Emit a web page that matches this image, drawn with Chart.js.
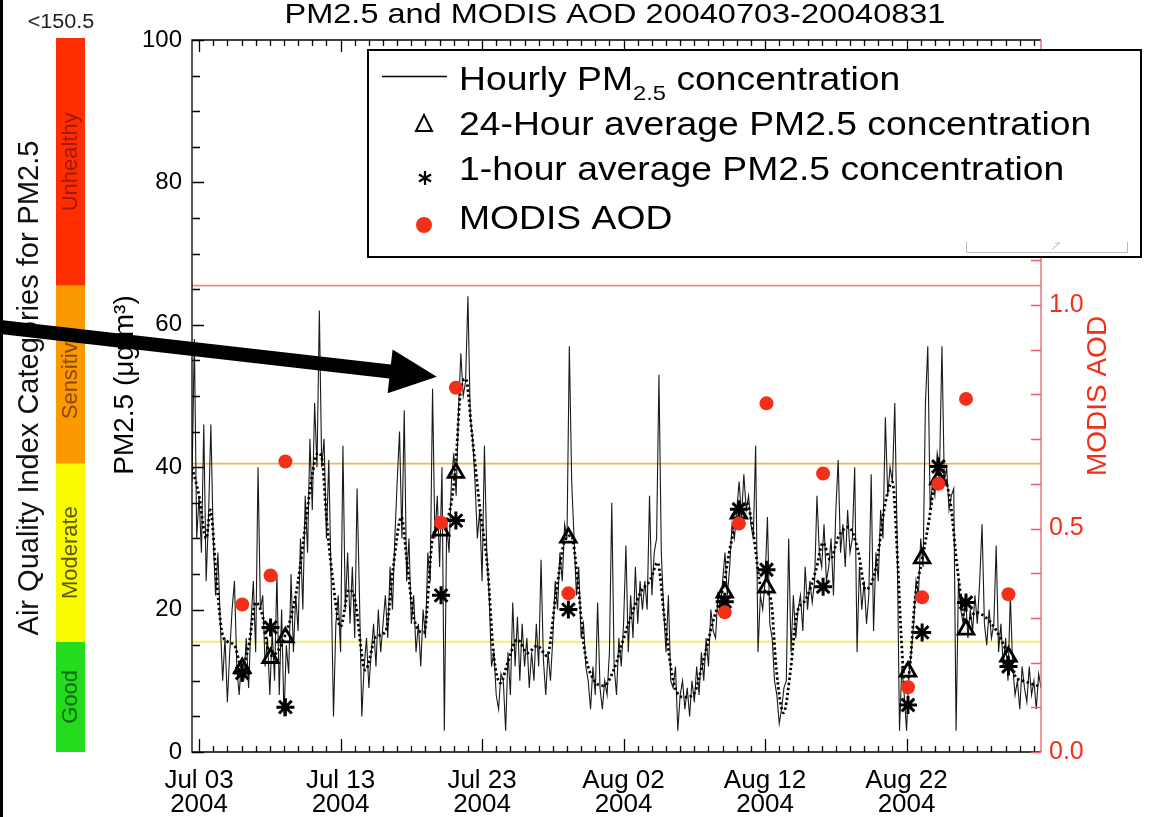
<!DOCTYPE html>
<html>
<head>
<meta charset="utf-8">
<title>PM2.5 and MODIS AOD</title>
<script src="https://cdn.jsdelivr.net/npm/chart.js@4.4.1/dist/chart.umd.min.js"></script>
<style>
  html, body { margin: 0; padding: 0; background: #fff; }
  #wrap { position: relative; width: 1149px; height: 817px; }
</style>
</head>
<body>
<div id="wrap"><canvas id="pmChart" width="1149" height="817"></canvas></div>
<script>
const FONT = '"Liberation Sans", Arial, Helvetica, sans-serif';
Chart.defaults.font.family = FONT;

// ---- data (x values are days after Jul 03 2004 00:00) ----
const chartTitle = 'PM2.5 and MODIS AOD 20040703-20040831';
const dateTickDays = [0, 10, 20, 30, 40, 50];
const dateTickLabels = [['Jul 03', '2004'], ['Jul 13', '2004'], ['Jul 23', '2004'],
                        ['Aug 02', '2004'], ['Aug 12', '2004'], ['Aug 22', '2004']];
const pmTickValues = [0, 20, 40, 60, 80, 100];
const aodTickValues = [0, 0.5, 1.0];
const aqiBreaks = [0, 15.5, 40.5, 65.5, 100];
const aqiNames = ['Good', 'Moderate', 'Sensitive', 'Unhealthy'];

// hourly PM2.5, read every 4 hours starting Jul 02 12:00
const hourlyStart = -0.5;
const hourlyStepHours = 4;
const hourlyPM = [
  38, 58, 30, 36, 28, 46,   24, 33, 46, 30, 22, 28,   18, 10, 16, 7, 14, 20,
  24, 12, 8, 13, 10, 16,    9, 18, 24, 14, 40, 20,    22, 12, 16, 8, 17, 10,
  25, 8, 20, 5, 15, 11,     25, 14, 22, 17, 30, 20,   36, 28, 44, 34, 49, 40,
  62, 40, 44, 30, 41, 24,   5, 18, 22, 14, 43, 20,    28, 18, 26, 16, 37, 22,
  5, 12, 16, 9, 14, 18,     12, 20, 14, 18, 22, 16,   26, 20, 30, 38, 45, 30,
  48, 24, 30, 18, 22, 14,   18, 12, 20, 16, 28, 24,   51, 30, 36, 26, 40, 3,
  32, 28, 38, 42, 36, 48,   56, 50, 52, 64, 47, 44,   38, 30, 34, 24, 43, 28,
  22, 12, 14, 8, 6, 11,     10, 3, 14, 8, 21, 12,     19, 10, 18, 12, 16, 9,
  14, 10, 18, 12, 27, 13,   8, 14, 10, 16, 24, 20,    28, 24, 32, 30, 57, 38,
  30, 22, 26, 16, 18, 12,   10, 6, 12, 8, 21, 9,      6, 10, 8, 14, 35, 12,
  8, 16, 12, 18, 29, 14,    22, 16, 26, 18, 24, 20,   24, 20, 36, 22, 28, 30,
  53, 28, 20, 14, 22, 10,   9, 12, 3, 8, 10, 6,       9, 5, 10, 7, 12, 8,
  14, 10, 16, 12, 20, 17,   16, 22, 20, 24, 28, 22,   26, 32, 30, 34, 38, 33,
  39, 34, 36, 32, 30, 43,   14, 22, 20, 24, 33, 18,   16, 10, 8, 4, 6, 9,
  10, 30, 14, 22, 16, 20,   22, 17, 26, 20, 24, 21,   24, 36, 28, 26, 32, 24,
  26, 30, 22, 34, 41, 28,   32, 26, 34, 28, 30, 40,   14, 26, 20, 24, 18, 22,
  39, 17, 28, 24, 34, 30,   47, 36, 40, 38, 49, 30,   3, 12, 8, 3, 11, 14,
  18, 24, 22, 30, 26, 49,   57, 34, 38, 36, 42, 40,   57, 38, 40, 34, 36, 37,
  3, 24, 20, 18, 22, 16,    20, 17, 22, 18, 24, 32,   18, 15, 20, 16, 18, 29,
  14, 18, 12, 16, 10, 22,   12, 8, 10, 6, 12, 9,      7, 12, 8, 10, 6, 11,
  9
];

// running 24-hour mean (dotted curve)
const avgDays = [
  -0.5, 0, 0.5, 0.8, 1.2, 1.6, 2.0, 2.5, 3.0, 3.5,
  4.0, 4.5, 5.0, 5.5, 6.0, 6.5, 7.0, 7.5, 8.0, 8.4,
  8.7, 9.0, 9.4, 10.0, 10.6, 11.0, 11.75, 12.5, 13.2, 13.7,
  14.3, 14.7, 15.2, 15.9, 16.5, 17.1, 17.6, 18.1, 18.5, 18.85,
  19.3, 19.8, 20.4, 20.8, 21.3, 21.8, 22.5, 23.2, 23.9, 24.6,
  25.2, 25.8, 26.3, 26.8, 27.2, 27.9, 28.6, 29.3, 30.2, 31.2,
  31.9, 32.4, 32.9, 33.5, 34.2, 34.9, 35.6, 36.3, 37.0, 37.6,
  38.1, 38.7, 39.2, 39.7, 40.4, 40.8, 41.3, 41.8, 42.2, 42.9,
  43.6, 44.1, 44.6, 45.2, 45.9, 46.6, 47.1, 47.8, 48.5, 49.0,
  49.4, 49.6, 49.9, 50.2, 50.6, 51.1, 51.6, 52.0, 52.5, 53.1,
  53.6, 54.2, 54.9, 55.6, 56.3, 57.0, 57.7, 58.4, 59.1, 59.5
];
const avgPM = [
  40, 36, 30, 34, 25, 17, 15.5, 15, 12, 14.8,
  21, 19, 13.5, 14, 16, 19, 24, 31.7, 39, 42,
  41, 33, 25, 17.6, 22.8, 21.5, 11.5, 16.2, 17, 25.6,
  33, 26.6, 18.6, 16.8, 30, 32, 33, 39.5, 51, 52.4,
  44.4, 35, 25.6, 14, 9.7, 12.5, 15.8, 13.9, 14.9, 13.5,
  21.8, 29.4, 30.4, 23.2, 14.9, 10.1, 9.3, 11.5, 17.2, 22.4,
  24.2, 26.6, 18.6, 10.1, 7.7, 8, 12.5, 18.2, 22.8, 29.4,
  33.1, 35, 30.3, 23.2, 21.5, 11.5, 5.5, 11.5, 19, 21.5,
  25.6, 29.4, 27, 30.3, 31.6, 28, 22.8, 25.6, 35, 37.9,
  25.6, 17, 9.2, 11.3, 21.5, 27, 32.7, 37.9, 38.9, 35,
  25.6, 18.2, 19.6, 18.9, 17.2, 14.4, 10.6, 9.9, 9.4, 9.2
];

// satellite overpass times and the values at them
const overpassDays = [3.05, 5.05, 6.1, 17.1, 18.15, 26.1, 37.15, 38.15, 40.1, 44.1, 50.1, 51.1, 52.25, 54.2, 57.2];
const avg24PM = [11.8, 13.2, 16.1, 31.1, 39.2, 30.1, 22.4, 33.5, 23.1, null, 11.3, 27.2, 38.3, 17.2, 13.4];
const hour1PM = [11.1, 17.5, 6.3, 22.0, 32.5, 20.0, 21.1, 34.1, 25.6, 23.2, 6.6, 16.8, 40.1, 21.0, 12.0];
const modisAOD = [0.33, 0.395, 0.65, 0.513, 0.815, 0.355, 0.3125, 0.511, 0.78, 0.623, 0.145, 0.346, 0.60, 0.79, 0.353];

const xMin = -0.5, xMax = 59.5;
const aodMax = 1.593;

const hourlyPoints = hourlyPM.map((v, i) => ({ x: hourlyStart + i * hourlyStepHours / 24, y: v }));
const avgPoints = avgDays.map((d, i) => ({ x: d, y: avgPM[i] }));
const pairUp = (vals) => overpassDays.map((d, i) => ({ x: d, y: vals[i] })).filter(p => p.y !== null);
const flatLine = (v) => [{ x: xMin, y: v }, { x: xMax, y: v }];

const RED = '#f2301a';

function stretchedText(ctx, text, x, y, sx, align) {
  ctx.save();
  ctx.translate(x, y);
  ctx.scale(sx, 1);
  ctx.textAlign = align || 'left';
  ctx.fillText(text, 0, 0);
  const w = ctx.measureText(text).width * sx;
  ctx.restore();
  return w;
}

function rotatedText(ctx, text, x, y, font, color) {
  ctx.save();
  ctx.translate(x, y);
  ctx.rotate(-Math.PI / 2);
  ctx.font = font;
  ctx.fillStyle = color;
  ctx.textAlign = 'center';
  ctx.textBaseline = 'middle';
  ctx.fillText(text, 0, 0);
  ctx.restore();
}

function drawFrame(chart) {
  const ctx = chart.ctx;
  const { left, right, top, bottom } = chart.chartArea;
  const xs = chart.scales.x, ys = chart.scales.y, y2 = chart.scales.y2;
  ctx.save();
  ctx.lineWidth = 1.3;
  ctx.strokeStyle = '#000';
  ctx.beginPath();
  ctx.moveTo(right, top); ctx.lineTo(left, top); ctx.lineTo(left, bottom); ctx.lineTo(right, bottom);
  for (let d = 0; d <= 59; d++) {
    const x = Math.round(xs.getPixelForValue(d)) + 0.5;
    const major = dateTickDays.includes(d);
    ctx.moveTo(x, bottom); ctx.lineTo(x, bottom - (major ? 13 : 6));
    ctx.moveTo(x, top); ctx.lineTo(x, top + (major ? 12 : 6));
  }
  for (let v = 0; v <= 100; v += 5) {
    const y = Math.round(ys.getPixelForValue(v)) + 0.5;
    ctx.moveTo(left, y); ctx.lineTo(left + (v % 20 === 0 ? 12 : 8), y);
  }
  ctx.stroke();
  ctx.strokeStyle = '#e8606a';
  ctx.beginPath();
  ctx.moveTo(right, top); ctx.lineTo(right, bottom);
  for (let k = 0; k <= 15; k++) {
    const y = Math.round(y2.getPixelForValue(k / 10)) + 0.5;
    ctx.moveTo(right, y); ctx.lineTo(right - 10, y);
  }
  ctx.stroke();
  ctx.restore();
}

function drawAqiBar(chart) {
  const ctx = chart.ctx;
  const ys = chart.scales.y;
  const colors = ['#25dc1c', '#fbfb00', '#fb9a00', '#ff2e00'];
  const textColors = ['#0d6a12', '#5a5800', '#8c4600', '#a2180a'];
  ctx.save();
  for (let i = 0; i < aqiNames.length; i++) {
    const yTop = ys.getPixelForValue(aqiBreaks[i + 1]) - (i === 3 ? 2 : 0);
    const yBot = ys.getPixelForValue(aqiBreaks[i]);
    ctx.fillStyle = colors[i];
    ctx.fillRect(56, yTop, 29, yBot - yTop);
    rotatedText(ctx, aqiNames[i], 71, (yTop + yBot) / 2, '22px ' + FONT, textColors[i]);
  }
  ctx.fillStyle = '#222';
  ctx.font = '20px ' + FONT;
  ctx.textBaseline = 'alphabetic';
  stretchedText(ctx, '<150.5', 61, 28, 1.08, 'center');
  ctx.restore();
}

function drawTitles(chart) {
  const ctx = chart.ctx;
  ctx.save();
  ctx.fillStyle = '#000';
  ctx.fillRect(0, 0, 3, 817);
  ctx.font = '28px ' + FONT;
  ctx.textBaseline = 'alphabetic';
  stretchedText(ctx, chartTitle, 615, 23, 1.16, 'center');
  rotatedText(ctx, 'Air Quality Index Categories for PM2.5', 30, 388, '29px ' + FONT, '#111');
  rotatedText(ctx, 'PM2.5 (μg/m³)', 125, 385, '28px ' + FONT, '#000');
  rotatedText(ctx, 'MODIS AOD', 1098, 396, '28px ' + FONT, RED);
  ctx.restore();
}

function drawLegendBox(chart) {
  const ctx = chart.ctx;
  const sx = 1.13;
  ctx.save();
  ctx.fillStyle = '#fff';
  ctx.fillRect(368, 50, 773, 207);
  ctx.lineWidth = 2;
  ctx.strokeStyle = '#000';
  ctx.strokeRect(368, 50, 773, 207);
  // faint artifact bracket seen inside the box
  ctx.strokeStyle = '#b8b8b8';
  ctx.lineWidth = 1;
  ctx.beginPath();
  ctx.moveTo(966.5, 242); ctx.lineTo(966.5, 252.5); ctx.lineTo(1127.5, 252.5); ctx.lineTo(1127.5, 242);
  ctx.moveTo(1052, 249); ctx.lineTo(1060, 243); ctx.lineTo(1055, 243);
  ctx.stroke();

  ctx.fillStyle = '#000';
  ctx.textBaseline = 'alphabetic';
  // row 1: hourly line
  ctx.lineWidth = 1.5;
  ctx.strokeStyle = '#000';
  ctx.beginPath(); ctx.moveTo(382, 76.5); ctx.lineTo(447, 76.5); ctx.stroke();
  ctx.font = '33px ' + FONT;
  let x = 459;
  x += stretchedText(ctx, 'Hourly PM', x, 90, sx);
  ctx.font = '21px ' + FONT;
  x += stretchedText(ctx, '2.5', x, 100, sx);
  ctx.font = '33px ' + FONT;
  stretchedText(ctx, ' concentration', x, 90, sx);
  // row 2: triangle
  ctx.lineWidth = 2;
  ctx.beginPath();
  ctx.moveTo(424, 115); ctx.lineTo(432, 131); ctx.lineTo(416, 131); ctx.closePath();
  ctx.stroke();
  stretchedText(ctx, '24-Hour average PM2.5 concentration', 459, 135, sx);
  // row 3: asterisk
  ctx.lineWidth = 2.2;
  ctx.beginPath();
  for (let a = 0; a < 3; a++) {
    const ang = Math.PI / 2 + a * Math.PI / 3;
    ctx.moveTo(425 - 7 * Math.cos(ang), 178 - 7 * Math.sin(ang));
    ctx.lineTo(425 + 7 * Math.cos(ang), 178 + 7 * Math.sin(ang));
  }
  ctx.stroke();
  stretchedText(ctx, '1-hour average PM2.5 concentration', 459, 180, sx);
  // row 4: red dot
  ctx.fillStyle = RED;
  ctx.beginPath(); ctx.arc(424, 225, 8, 0, Math.PI * 2); ctx.fill();
  ctx.fillStyle = '#000';
  stretchedText(ctx, 'MODIS AOD', 459, 229, sx);
  ctx.restore();
}

function drawArrow(chart) {
  const ctx = chart.ctx;
  const xs = chart.scales.x, ys = chart.scales.y;
  const tip = { x: xs.getPixelForValue(16.8), y: ys.getPixelForValue(52.7) };
  const tail = { x: 0, y: ys.getPixelForValue(59.7) };
  const dx = tip.x - tail.x, dy = tip.y - tail.y;
  const len = Math.hypot(dx, dy);
  const ux = dx / len, uy = dy / len;
  const headLen = 47, headHalf = 22;
  const bx = tip.x - ux * headLen, by = tip.y - uy * headLen;
  ctx.save();
  ctx.strokeStyle = '#000';
  ctx.fillStyle = '#000';
  ctx.lineWidth = 14;
  ctx.beginPath(); ctx.moveTo(tail.x, tail.y); ctx.lineTo(bx + ux * 2, by + uy * 2); ctx.stroke();
  ctx.beginPath();
  ctx.moveTo(tip.x, tip.y);
  ctx.lineTo(bx - uy * headHalf, by + ux * headHalf);
  ctx.lineTo(bx + uy * headHalf, by - ux * headHalf);
  ctx.closePath();
  ctx.fill();
  ctx.restore();
}

const decorations = {
  id: 'decorations',
  afterDatasetsDraw(chart) { drawFrame(chart); },
  afterDraw(chart) {
    drawAqiBar(chart);
    drawTitles(chart);
    drawLegendBox(chart);
    drawArrow(chart);
  }
};

const ctx = document.getElementById('pmChart').getContext('2d');
const pmChart = new Chart(ctx, {
  type: 'scatter',
  data: {
    datasets: [
      { label: 'MODIS AOD', data: modisAOD.map((v, i) => ({ x: overpassDays[i], y: v })), yAxisID: 'y2',
        pointStyle: 'circle', pointRadius: 7, pointBackgroundColor: RED, pointBorderWidth: 0, order: 1 },
      { label: '1-hour average PM2.5 concentration', data: pairUp(hour1PM),
        pointStyle: 'star', pointRadius: 9, pointBorderColor: '#000', pointBorderWidth: 3, order: 2 },
      { label: '24-Hour average PM2.5 concentration', data: pairUp(avg24PM),
        pointStyle: 'triangle', pointRadius: 9, pointBorderColor: '#000', pointBorderWidth: 2.8,
        pointBackgroundColor: 'rgba(255,255,255,0)', order: 3 },
      { label: '24-hour running mean', data: avgPoints, showLine: true, pointRadius: 0,
        borderColor: '#000', borderWidth: 2.8, borderDash: [2.4, 2.6], cubicInterpolationMode: 'monotone', order: 4 },
      { label: 'Hourly PM2.5 concentration', data: hourlyPoints, showLine: true, pointRadius: 0,
        borderColor: '#1a1a1a', borderWidth: 1.1, tension: 0, order: 5 },
      { label: 'Unhealthy for sensitive', data: flatLine(aqiBreaks[3]), showLine: true, pointRadius: 0,
        borderColor: '#ec8a8a', borderWidth: 1.6, order: 6 },
      { label: 'Moderate limit', data: flatLine(aqiBreaks[2]), showLine: true, pointRadius: 0,
        borderColor: '#f0b45a', borderWidth: 1.6, order: 6 },
      { label: 'Good limit', data: flatLine(aqiBreaks[1]), showLine: true, pointRadius: 0,
        borderColor: '#f1ef70', borderWidth: 2, order: 6 }
    ]
  },
  options: {
    responsive: false,
    animation: false,
    events: [],
    layout: { padding: { left: 132, right: 48, top: 40, bottom: 5 } },
    plugins: { legend: { display: false }, tooltip: { enabled: false } },
    scales: {
      x: {
        type: 'linear', position: 'bottom', min: xMin, max: xMax,
        grid: { display: false }, border: { display: false },
        afterFit: (s) => { s.height = 60; },
        afterBuildTicks: (s) => { s.ticks = dateTickDays.map(v => ({ value: v })); },
        ticks: { autoSkip: false, maxRotation: 0, padding: 9, color: '#000',
                 font: { size: 26, lineHeight: '24px' },
                 callback: (v, i) => dateTickLabels[i] }
      },
      y: {
        type: 'linear', position: 'left', min: 0, max: 100,
        grid: { display: false }, border: { display: false },
        afterFit: (s) => { s.width = 60; },
        afterBuildTicks: (s) => { s.ticks = pmTickValues.map(v => ({ value: v })); },
        ticks: { padding: 2, color: '#000', font: { size: 24 } }
      },
      y2: {
        type: 'linear', position: 'right', min: 0, max: aodMax,
        grid: { display: false }, border: { display: false },
        afterFit: (s) => { s.width = 60; },
        afterBuildTicks: (s) => { s.ticks = aodTickValues.map(v => ({ value: v })); },
        ticks: { padding: 0, color: RED, font: { size: 25 }, callback: (v) => v.toFixed(1) }
      }
    }
  },
  plugins: [decorations]
});
</script>
</body>
</html>
